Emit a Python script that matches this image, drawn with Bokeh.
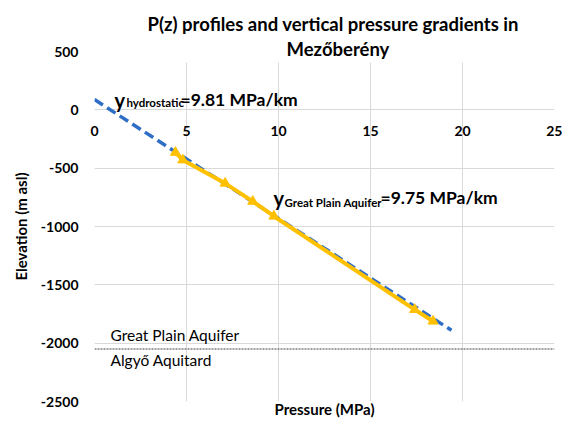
from bokeh.plotting import figure
from bokeh.models import Range1d, FixedTicker, Label, Span, Title
from bokeh.embed import file_html
from bokeh.resources import INLINE

# ---- data ----
hydro_p = [0.0, 19.4]            # MPa
hydro_z = [88, -1890]            # m asl
gpa_p = [4.4, 4.8, 7.1, 8.6, 9.75, 17.4, 18.4]
gpa_z = [-365, -430, -630, -785, -912, -1712, -1812]
x_ticks = [0, 5, 10, 15, 20, 25]
y_ticks = [-2500, -2000, -1500, -1000, -500, 0, 500]
y_tick_labels = ["-2500", "-2000", "-1500", "-1000", "-500", "0", "500"]
boundary_z = -2050
title_lines = ["P(z) profiles and vertical pressure gradients in", "Mezőberény"]
x_title = "Pressure (MPa)"
y_title = "Elevation (m asl)"
upper_unit = "Great Plain Aquifer"
lower_unit = "Algyő Aquitard"
hydro_sub, hydro_val = "hydrostatic", "=9.81 MPa/km"
gpa_sub, gpa_val = "Great Plain Aquifer", "=9.75 MPa/km"

FONT = "Lato"
W, H = 562, 421


# reference pixel -> data position helpers (for annotation placement only)
def dx(px):
    return (px - 95) / 18.4


def dy(py):
    return 500 - (py - 52) * 3000 / 350


p = figure(width=W, height=H, output_backend="svg", toolbar_location=None,
           x_range=Range1d(0, 25), y_range=Range1d(-2500, 500),
           min_border_left=94, min_border_right=8, min_border_top=51, min_border_bottom=20,
           background_fill_color="white", border_fill_color="white")
p.outline_line_color = None

# title: two lines (default title is the outer one)
p.title.text = title_lines[0]
p.title.align = "left"
p.title.offset = 53
p.title.standoff = 18
p.title.text_font = FONT
p.title.text_font_size = "18.5px"
p.title.text_font_style = "bold"
p.title.text_color = "black"
t2 = Title(text=title_lines[1], align="left", offset=192, standoff=-16,
           text_font=FONT, text_font_size="18.5px", text_font_style="bold",
           text_color="black")
p.add_layout(t2, "above")

# x axis: tick labels sit just under the 0 m line
p.xaxis.ticker = FixedTicker(ticks=x_ticks)
p.xaxis.axis_line_color = None
p.xaxis.major_tick_line_color = None
p.xaxis.minor_tick_line_color = None
p.xaxis.major_tick_out = 0
p.xaxis.major_tick_in = 0
p.xaxis.minor_tick_out = 0
p.xaxis.major_label_standoff = -276
p.xaxis.major_label_text_font = FONT
p.xaxis.major_label_text_font_style = "bold"
p.xaxis.major_label_text_font_size = "14px"
p.xaxis.major_label_text_color = "black"
p.xaxis.axis_label = x_title
p.xaxis.axis_label_standoff = 261
p.xaxis.axis_label_text_font = FONT
p.xaxis.axis_label_text_font_style = "bold"
p.xaxis.axis_label_text_font_size = "15px"
p.xaxis.axis_label_text_color = "black"

p.yaxis.ticker = FixedTicker(ticks=y_ticks)
p.yaxis.major_label_overrides = {t: s for t, s in zip(y_ticks, y_tick_labels)}
p.yaxis.axis_line_color = None
p.yaxis.major_tick_line_color = None
p.yaxis.minor_tick_line_color = None
p.yaxis.major_tick_out = 0
p.yaxis.major_tick_in = 0
p.yaxis.minor_tick_out = 0
p.yaxis.major_label_standoff = 16
p.yaxis.major_label_text_font = FONT
p.yaxis.major_label_text_font_style = "bold"
p.yaxis.major_label_text_font_size = "14px"
p.yaxis.major_label_text_color = "black"
p.yaxis.axis_label = y_title
p.yaxis.axis_label_text_font = FONT
p.yaxis.axis_label_text_font_style = "bold"
p.yaxis.axis_label_text_font_size = "15px"
p.yaxis.axis_label_text_color = "black"
p.yaxis.axis_label_standoff = 8

p.xgrid.ticker = FixedTicker(ticks=x_ticks)
p.ygrid.ticker = FixedTicker(ticks=y_ticks)
p.xgrid.grid_line_color = "#D9D9D9"
p.ygrid.grid_line_color = "#D9D9D9"

# white box behind the title (hides gridlines as in the reference)
p.quad(left=[dx(143)], right=[dx(534)], bottom=[dy(63)], top=[600],
       fill_color="white", line_color=None)

# boundary between units
p.add_layout(Span(location=boundary_z, dimension="width", line_color="#404040",
                  line_width=1, line_dash="2 1"))

# hydrostatic line
p.line(hydro_p, hydro_z, line_color="#2F6EC6", line_width=3.5, line_dash="10 5")
# Great Plain Aquifer profile
p.line(gpa_p, gpa_z, line_color="#FFC000", line_width=4)
p.scatter(gpa_p, gpa_z, marker="triangle", size=10, fill_color="#FFC000",
          line_color="#FFC000")


def lab(text, x, y, size, style="normal", xoff=0, baseline="middle", align="left"):
    p.add_layout(Label(x=x, y=y, x_offset=xoff, text=text,
                       text_font=FONT, text_font_size=size, text_font_style=style,
                       text_color="black", text_align=align, text_baseline=baseline))


# units
lab(upper_unit, dx(111), dy(335), "15.5px")
lab(lower_unit, dx(111), dy(360), "15.5px")
# gradient annotations (main symbol + subscript + value)
hx, hy = dx(115), dy(100)
lab("y", hx, hy, "20px", "bold", 0, "alphabetic")
lab(hydro_sub, hx, dy(103), "11.5px", "bold", 12, "alphabetic")
lab(hydro_val, hx, hy, "17.5px", "bold", 66, "alphabetic")
gx, gy = dx(274), dy(198)
lab("y", gx, gy, "20px", "bold", 0, "alphabetic")
lab(gpa_sub, gx, dy(203), "11.5px", "bold", 11, "alphabetic")
lab(gpa_val, gx, gy, "17.5px", "bold", 107, "alphabetic")

open("out.html", "w").write(file_html(p, INLINE))
